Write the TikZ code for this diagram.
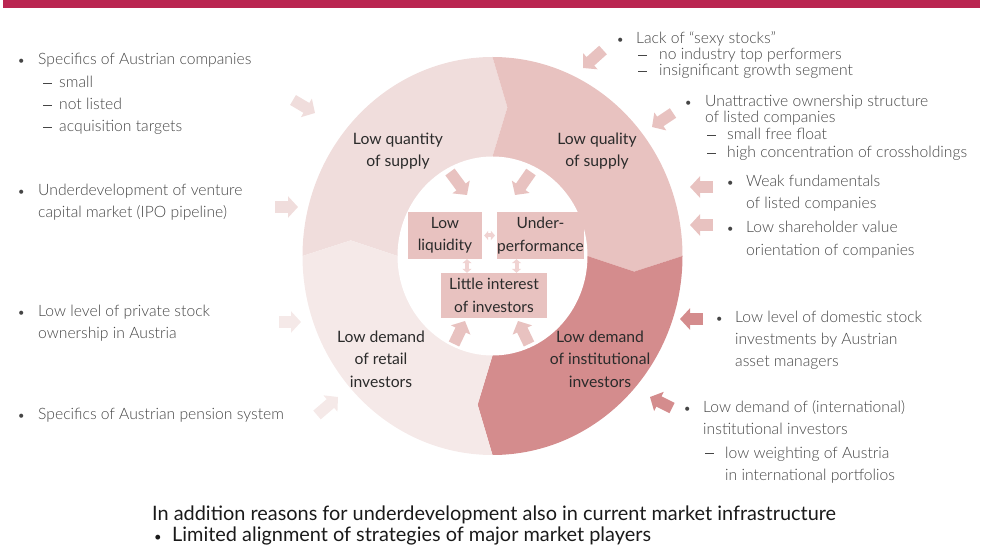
\documentclass[tikz,border=0pt]{standalone}
\usepackage{fontspec}
\setmainfont{Lato}
\IfFontExistsTF{Lato Light}{\newfontfamily\sidefont{Lato Light}}{\newfontfamily\sidefont{Lato}}
\usetikzlibrary{arrows.meta,calc}
\definecolor{barc}{HTML}{BA2651}
\definecolor{qtyc}{HTML}{F0DDDC}
\definecolor{retc}{HTML}{F5E9E8}
\definecolor{qualc}{HTML}{E8C2C0}
\definecolor{instc}{HTML}{D48C8D}
\definecolor{boxc}{HTML}{E8C2C0}
\definecolor{smallc}{HTML}{F0D3D2}
\definecolor{txtc}{HTML}{454545}
\definecolor{labc}{HTML}{2B2B2B}
\definecolor{btc}{HTML}{1A1A1A}
\newcommand{\dashmark}{\rule[4.6pt]{9pt}{0.8pt}}
\begin{document}
\begin{tikzpicture}[x=1pt,y=1pt,yscale=-1,
  side/.style={anchor=base west, inner sep=0pt, font=\sidefont\fontsize{15.7}{17}\selectfont, text=txtc},
  dsh/.style={anchor=base west, inner sep=0pt, text=txtc},
  bul/.style={anchor=base west, inner sep=0pt, font=\fontsize{11}{17}\selectfont, text=txtc},
  ringlab/.style={align=center, inner sep=0pt, font=\fontsize{15.7}{22.5}\selectfont, text=labc},
  boxlab/.style={align=center, inner sep=0pt, fill=boxc, font=\fontsize{15.5}{22.5}\selectfont, text=labc},
  blockarr/.style={line width=11.5pt, -{Triangle[length=10pt, width=21pt]}},
  tinyarr/.style={draw=smallc, line width=4pt, {Triangle[length=4pt, width=9pt]}-{Triangle[length=4pt, width=9pt]}},
  bott/.style={anchor=base west, inner sep=0pt, font=\fontsize{19.9}{22}\selectfont, text=btc}]
\useasboundingbox (0,0) rectangle (986,545);
\fill[barc] (3,0) rectangle (980,8);

% ring
\coordinate (C) at (492.5,256);
\def\Rx{190}\def\Ry{199}\def\Mx{142.5}\def\My{149.5}\def\Ix{95}\def\Iy{99.5}
\begin{scope}
\clip (C) ellipse [x radius=190pt, y radius=199pt];
\foreach \a/\b/\col in {-180/-90/qtyc, -90/0/qualc, 0/90/instc, 90/180/retc}{
  \fill[\col] (C) -- ($(C)+(\a:\Ix pt and \Iy pt)$) -- ($(C)+(\a+6:\Mx pt and \My pt)$) -- ($(C)+(\a:\Rx pt and \Ry pt)$)
   -- ($(C)+(\a:300pt)$) -- ($(C)+(\a+45:300pt)$) -- ($(C)+(\b:300pt)$) -- ($(C)+(\b:\Rx pt and \Ry pt)$)
   -- ($(C)+(\b+6:\Mx pt and \My pt)$) -- ($(C)+(\b:\Ix pt and \Iy pt)$) -- cycle;
}
\end{scope}
\fill[white] (C) ellipse [x radius=95pt, y radius=99.5pt];

% ring labels
\node[ringlab] (qty) at (398,151) {Low quantity\\of supply};
\node[ringlab] (qual) at (597,151) {Low quality\\of supply};
\node[ringlab] (ret) at (381,359) {Low demand\\of retail\\investors};
\node[ringlab] (inst) at (600,359) {Low demand\\of institutional\\investors};

% inner boxes
\node[boxlab, minimum width=74pt, minimum height=47pt] (liq) at (445,235.5) {Low\\liquidity};
\node[boxlab, minimum width=81pt, minimum height=47pt] (und) at (540.5,235.5) {Under-\\performance};
\node[boxlab, minimum width=106pt, minimum height=45pt] (lit) at (494,295.5) {Little interest\\of investors};

% small arrows between boxes
\draw[tinyarr] ([xshift=2pt]liq.east) -- ([xshift=-2pt]und.west);
\coordinate (v1a) at ([xshift=22pt]liq.south);
\coordinate (v1b) at (v1a |- lit.north);
\coordinate (v2a) at ([xshift=-24pt]und.south);
\coordinate (v2b) at (v2a |- lit.north);
\draw[tinyarr] (v1a) -- (v1b);
\draw[tinyarr] (v2a) -- (v2b);

% inner block arrows
\coordinate (ia1s) at (450,172); \coordinate (ia1e) at (467,195);
\coordinate (ia2s) at (531,172); \coordinate (ia2e) at (515,195);
\coordinate (ia3s) at (454,344); \coordinate (ia3e) at (465,321);
\coordinate (ia4s) at (529,344); \coordinate (ia4e) at (518,321);
\draw[blockarr, draw=boxc, fill=boxc] (ia1s) -- (ia1e);
\draw[blockarr, draw=boxc, fill=boxc] (ia2s) -- (ia2e);
\draw[blockarr, draw=boxc, fill=boxc] (ia3s) -- (ia3e);
\draw[blockarr, draw=boxc, fill=boxc] (ia4s) -- (ia4e);

% outer block arrows
\coordinate (o1s) at (293,100); \coordinate (o1e) at (315,113);
\coordinate (o2s) at (275,207); \coordinate (o2e) at (298,207);
\coordinate (o3s) at (279,322); \coordinate (o3e) at (301,322);
\coordinate (o4s) at (317,415); \coordinate (o4e) at (338,397);
\coordinate (o5s) at (603,50);  \coordinate (o5e) at (583,68);
\coordinate (o6s) at (673,113); \coordinate (o6e) at (652,127);
\coordinate (o7s) at (713,187); \coordinate (o7e) at (690,187);
\coordinate (o8s) at (713,225); \coordinate (o8e) at (690,225);
\coordinate (o9s) at (703,319); \coordinate (o9e) at (680,319);
\coordinate (o10s) at (672,408); \coordinate (o10e) at (650,397);
\draw[blockarr, draw=qtyc, fill=qtyc] (o1s) -- (o1e);
\draw[blockarr, draw=qtyc, fill=qtyc] (o2s) -- (o2e);
\draw[blockarr, draw=retc, fill=retc] (o3s) -- (o3e);
\draw[blockarr, draw=retc, fill=retc] (o4s) -- (o4e);
\draw[blockarr, draw=qualc, fill=qualc] (o5s) -- (o5e);
\draw[blockarr, draw=qualc, fill=qualc] (o6s) -- (o6e);
\draw[blockarr, draw=qualc, fill=qualc] (o7s) -- (o7e);
\draw[blockarr, draw=qualc, fill=qualc] (o8s) -- (o8e);
\draw[blockarr, draw=instc, fill=instc] (o9s) -- (o9e);
\draw[blockarr, draw=instc, fill=instc] (o10s) -- (o10e);

% left texts
\node[bul] (lb1) at (18,65) {•};
\node[side] (l1) at (38,65) {Specifics of Austrian companies};
\node[dsh] (ld1) at (43,88) {\dashmark}; \node[side] (l1a) at (59,88) {small};
\node[dsh] (ld2) at (43,110) {\dashmark}; \node[side] (l1b) at (59,110) {not listed};
\node[dsh] (ld3) at (43,132) {\dashmark}; \node[side] (l1c) at (59,132) {acquisition targets};
\node[bul] (lb2) at (18,196) {•};
\node[side] (l2) at (38,196) {Underdevelopment of venture};
\node[side] (l2a) at (38,218) {capital market (IPO pipeline)};
\node[bul] (lb3) at (18,317) {•};
\node[side] (l3) at (38,317) {Low level of private stock};
\node[side] (l3a) at (38,339) {ownership in Austria};
\node[bul] (lb4) at (18,420) {•};
\node[side] (l4) at (38,420) {Specifics of Austrian pension system};

% right texts
\node[bul] (rb1) at (617,44) {•};
\node[side] (r1) at (636,44) {Lack of “sexy stocks”};
\node[dsh] (rd1) at (638,60) {\dashmark}; \node[side] (r1a) at (659,60) {no industry top performers};
\node[dsh] (rd2) at (638,76) {\dashmark}; \node[side] (r1b) at (659,76) {insignificant growth segment};
\node[bul] (rb2) at (685,107) {•};
\node[side] (r2) at (705,107) {Unattractive ownership structure};
\node[side] (r2a) at (705,123) {of listed companies};
\node[dsh] (rd3) at (707,140) {\dashmark}; \node[side] (r2b) at (727,140) {small free float};
\node[dsh] (rd4) at (707,158) {\dashmark}; \node[side] (r2c) at (727,158) {high concentration of crossholdings};
\node[bul] (rb3) at (727,187) {•};
\node[side] (r3) at (746,187) {Weak fundamentals};
\node[side] (r3a) at (746,209) {of listed companies};
\node[bul] (rb4) at (727,233) {•};
\node[side] (r4) at (746,233) {Low shareholder value};
\node[side] (r4a) at (746,256) {orientation of companies};
\node[bul] (rb5) at (716,323) {•};
\node[side] (r5) at (735,323) {Low level of domestic stock};
\node[side] (r5a) at (735,345) {investments by Austrian};
\node[side] (r5b) at (735,367) {asset managers};
\node[bul] (rb6) at (684,413) {•};
\node[side] (r6) at (703,413) {Low demand of (international)};
\node[side] (r6a) at (703,435) {institutional investors};
\node[dsh] (rd5) at (705,458) {\dashmark}; \node[side] (r6b) at (725,458) {low weighting of Austria};
\node[side] (r6c) at (725,480) {in international portfolios};

% bottom
\node[bott] (bt1) at (152,520) {In addition reasons for underdevelopment also in current market infrastructure};
\node[bul, font=\fontsize{13}{17}\selectfont, text=btc] (bb) at (154,541) {•};
\node[bott] (bt2) at (172,541) {Limited alignment of strategies of major market players};
\end{tikzpicture}
\end{document}
